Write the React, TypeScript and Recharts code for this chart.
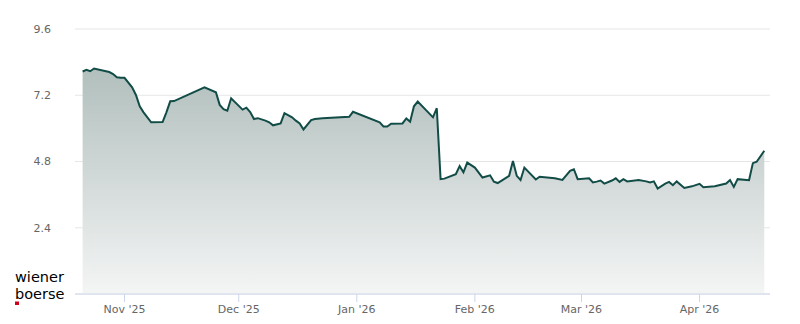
import React from "react";
import { AreaChart, Area, XAxis, YAxis, CartesianGrid } from "recharts";

const dates = [
  "2025-10-21", "2025-10-22", "2025-10-23", "2025-10-24", "2025-10-28", "2025-10-29", "2025-10-30", "2025-10-31",
  "2025-11-01", "2025-11-03", "2025-11-04", "2025-11-05", "2025-11-06", "2025-11-08", "2025-11-11", "2025-11-12",
  "2025-11-13", "2025-11-14", "2025-11-22", "2025-11-25", "2025-11-26", "2025-11-27", "2025-11-28", "2025-11-29",
  "2025-12-02", "2025-12-03", "2025-12-04", "2025-12-05", "2025-12-06", "2025-12-08", "2025-12-09", "2025-12-10",
  "2025-12-12", "2025-12-13", "2025-12-15", "2025-12-16", "2025-12-17", "2025-12-18", "2025-12-20", "2025-12-21",
  "2025-12-23", "2025-12-30", "2025-12-31", "2026-01-07", "2026-01-08", "2026-01-09", "2026-01-10", "2026-01-13",
  "2026-01-14", "2026-01-15", "2026-01-16", "2026-01-17", "2026-01-21", "2026-01-22", "2026-01-23", "2026-01-24",
  "2026-01-27", "2026-01-28", "2026-01-29", "2026-01-30", "2026-02-01", "2026-02-03", "2026-02-05", "2026-02-06",
  "2026-02-07", "2026-02-10", "2026-02-11", "2026-02-12", "2026-02-13", "2026-02-14", "2026-02-17", "2026-02-18",
  "2026-02-22", "2026-02-24", "2026-02-26", "2026-02-27", "2026-02-28", "2026-03-03", "2026-03-04", "2026-03-05",
  "2026-03-06", "2026-03-07", "2026-03-09", "2026-03-10", "2026-03-11", "2026-03-12", "2026-03-13", "2026-03-16",
  "2026-03-18", "2026-03-19", "2026-03-20", "2026-03-21", "2026-03-23", "2026-03-24", "2026-03-25", "2026-03-26",
  "2026-03-28", "2026-03-30", "2026-04-01", "2026-04-02", "2026-04-05", "2026-04-08", "2026-04-09", "2026-04-10",
  "2026-04-11", "2026-04-14", "2026-04-15", "2026-04-16", "2026-04-18",
];

const prices = [
  8.06, 8.12, 8.07, 8.17, 8.04, 7.97, 7.85, 7.83,
  7.83, 7.49, 7.21, 6.8, 6.58, 6.22, 6.23, 6.58,
  6.98, 6.99, 7.49, 7.31, 6.85, 6.7, 6.64, 7.09,
  6.68, 6.75, 6.59, 6.34, 6.37, 6.28, 6.22, 6.11,
  6.18, 6.55, 6.4, 6.28, 6.18, 5.96, 6.3, 6.34,
  6.37, 6.42, 6.6, 6.22, 6.07, 6.07, 6.17, 6.18,
  6.36, 6.24, 6.8, 6.97, 6.4, 6.73, 4.16, 4.18,
  4.34, 4.63, 4.41, 4.76, 4.58, 4.22, 4.3, 4.07,
  4.02, 4.28, 4.82, 4.28, 4.13, 4.58, 4.15, 4.25,
  4.19, 4.13, 4.46, 4.52, 4.16, 4.19, 4.04, 4.07,
  4.11, 4.0, 4.11, 4.19, 4.06, 4.16, 4.08, 4.13,
  4.08, 4.04, 4.08, 3.82, 4.0, 4.06, 3.94, 4.08,
  3.84, 3.9, 3.99, 3.87, 3.9, 4.0, 4.13, 3.88,
  4.16, 4.12, 4.74, 4.79, 5.19,
];

const yTicks = [2.4, 4.8, 7.2, 9.6];
const monthTicks = ["2025-11-01", "2025-12-01", "2026-01-01", "2026-02-01", "2026-03-01", "2026-04-01"];
const monthLabels = ["Nov '25", "Dec '25", "Jan '26", "Feb '26", "Mar '26", "Apr '26"];
const xDomain = ["2025-10-19T00:00:00Z", "2026-04-19T12:00:00Z"];
const logoLines = ["wiener", "boerse"];

const toTs = (s: string) => Date.parse(s.length === 10 ? s + "T00:00:00Z" : s);
const data = dates.map((d, i) => ({ t: toTs(d), v: prices[i] }));
const tickTs = monthTicks.map(toTs);

const axisFont = { fontFamily: "DejaVu Sans", fontSize: 11, fill: "#666666" };

export default function App() {
  return (
    <div style={{ position: "absolute", left: 0, top: 0, width: 800, height: 324, background: "#fff" }}>
      <AreaChart width={800} height={324} data={data} margin={{ top: 29, right: 30, left: 0, bottom: 0 }}>
        <defs>
          <linearGradient id="fillGrad" x1="0" y1="0" x2="0" y2="1">
            <stop offset="0%" stopColor="#b1bfbd" />
            <stop offset="100%" stopColor="#f4f5f5" />
          </linearGradient>
        </defs>
        <CartesianGrid vertical={false} stroke="#e6e6e6" />
        <XAxis
          dataKey="t"
          type="number"
          domain={[toTs(xDomain[0]), toTs(xDomain[1])]}
          ticks={tickTs}
          interval={0}
          allowDataOverflow
          tickFormatter={(v: number) => {
            const i = tickTs.indexOf(v);
            return i >= 0 ? monthLabels[i] : "";
          }}
          height={30}
          tickSize={8}
          tickMargin={3}
          axisLine={{ stroke: "#ccd6eb" }}
          tickLine={{ stroke: "#ccd6eb" }}
          tick={axisFont}
        />
        <YAxis
          type="number"
          domain={[0, 9.6]}
          ticks={yTicks}
          interval={0}
          width={75}
          axisLine={false}
          tickLine={false}
          tickSize={0}
          tickMargin={24}
          tick={axisFont}
        />
        <Area
          type="linear"
          dataKey="v"
          stroke="#124c47"
          strokeWidth={2}
          fill="url(#fillGrad)"
          fillOpacity={1}
          dot={false}
          activeDot={false}
          isAnimationActive={false}
        />
      </AreaChart>
      <svg width={100} height={324} style={{ position: "absolute", left: 0, top: 0 }}>
        <text x={15} y={281.5} style={{ fontFamily: "DejaVu Sans", fontSize: 14.5, fill: "#000" }}>{logoLines[0]}</text>
        <text x={15} y={298.5} style={{ fontFamily: "DejaVu Sans", fontSize: 14.5, fill: "#000" }}>{logoLines[1]}</text>
        <rect x={15} y={301.5} width={4} height={3.5} fill="#d0021b" />
      </svg>
    </div>
  );
}
